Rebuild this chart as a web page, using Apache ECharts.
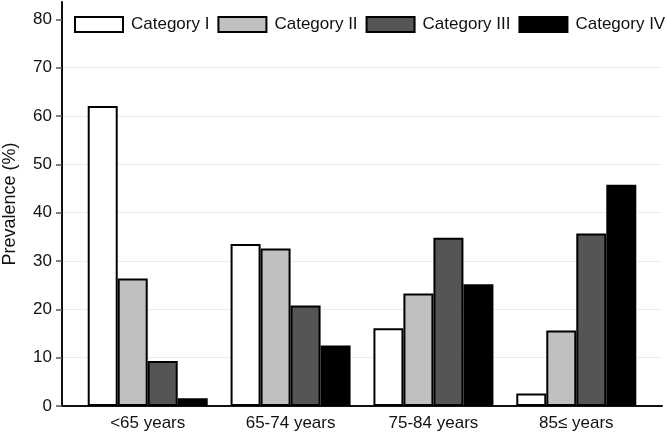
<!DOCTYPE html>
<html>
<head>
<meta charset="utf-8">
<script src="https://cdn.jsdelivr.net/npm/echarts@6/dist/echarts.min.js"></script>
<style>
html,body{margin:0;padding:0;background:#fff;}
#chart{width:667px;height:435px;}
</style>
</head>
<body>
<div id="chart"></div>
<script>
const categories = ['<65 years', '65-74 years', '75-84 years', '85\u2264 years'];
const seriesNames = ['Category I', 'Category II', 'Category III', 'Category IV'];
const catI = [62.1, 33.5, 16.1, 2.6];
const catII = [26.4, 32.6, 23.3, 15.6];
const catIII = [9.3, 20.8, 34.8, 35.7];
const catIV = [1.6, 12.5, 25.2, 45.8];
const yTicks = [0, 10, 20, 30, 40, 50, 60, 70, 80];
const seriesColors = ['#ffffff', '#c0c0c0', '#555555', '#000000'];

const allValues = [catI, catII, catIII, catIV];
const FONT = 'Liberation Sans, Arial, sans-serif';

const chart = echarts.init(document.getElementById('chart'), null, {renderer: 'canvas'});

const series = allValues.map((vals, si) => ({
  name: seriesNames[si],
  type: 'bar',
  barWidth: 30,
  barGap: '0%',
  data: vals.map((v, i) => [i, v]),
  itemStyle: {color: seriesColors[si], borderColor: '#000', borderWidth: 2},
  emphasis: {disabled: true},
  animation: false
}));

const splitColors = yTicks.map((t, i) => (i === 0 || i === yTicks.length - 1) ? 'rgba(0,0,0,0)' : '#e8eeee');

chart.setOption({
  animation: false,
  backgroundColor: '#ffffff',
  textStyle: {fontFamily: FONT},
  legend: {
    data: seriesNames,
    icon: 'rect',
    left: 74,
    top: 16,
    padding: 0,
    width: 600,
    itemWidth: 48,
    itemHeight: 15,
    itemGap: 8,
    selectedMode: false,
    textStyle: {fontFamily: FONT, fontSize: 17, color: '#111', padding: [0, 0, 0, 3]}
  },
  grid: {left: 62, right: 5, top: 2, bottom: 29, containLabel: false, outerBoundsMode: 'none'},
  xAxis: {
    type: 'value',
    min: -0.6,
    max: 3.6,
    axisLine: {show: true, onZero: true, lineStyle: {color: '#111', width: 2}},
    axisTick: {show: false},
    splitLine: {show: false},
    axisLabel: {
      customValues: [0, 1, 2, 3],
      formatter: (v) => categories[Math.round(v)] || '',
      fontFamily: FONT,
      fontSize: 17,
      color: '#111',
      margin: 9
    }
  },
  yAxis: {
    type: 'value',
    min: 0,
    max: 83.6,
    name: 'Prevalence (%)',
    nameLocation: 'middle',
    nameGap: 43,
    nameTextStyle: {fontFamily: FONT, fontSize: 18, color: '#111'},
    axisLine: {show: true, onZero: false, lineStyle: {color: '#111', width: 2}},
    axisTick: {show: true, customValues: yTicks, length: 6, lineStyle: {color: '#555', width: 1.5}},
    axisLabel: {customValues: yTicks, fontFamily: FONT, fontSize: 17, color: '#111', margin: 10},
    splitLine: {show: true, lineStyle: {color: splitColors, width: 1}}
  },
  series: series
});
</script>
</body>
</html>
